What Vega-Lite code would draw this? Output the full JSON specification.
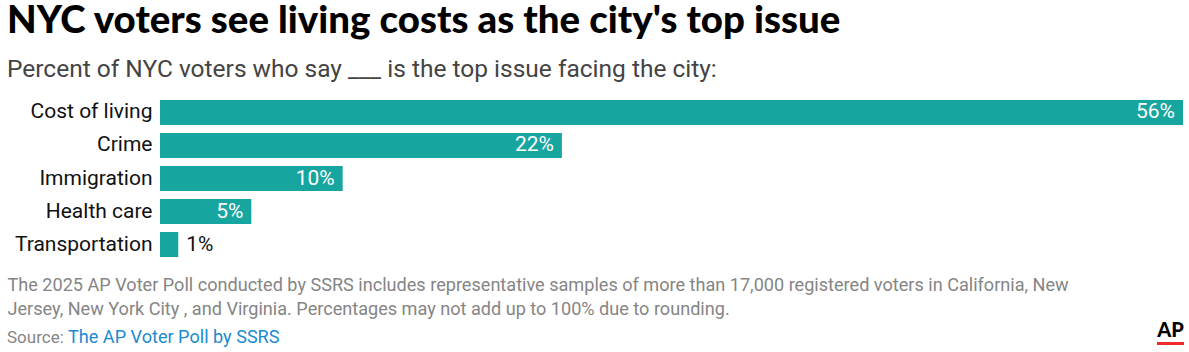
{
  "$schema": "https://vega.github.io/schema/vega-lite/v6.json",
  "background": "white",
  "padding": {"left": 7, "top": 1, "right": 5, "bottom": 0},
  "config": {"view": {"stroke": null}, "concat": {"spacing": 4}},
  "title": {
    "text": "NYC voters see living costs as the city's top issue",
    "subtitle": "Percent of NYC voters who say ___ is the top issue facing the city:",
    "anchor": "start",
    "font": "Lato",
    "fontSize": 38.4,
    "fontWeight": 900,
    "color": "#000000",
    "subtitleFont": "Roboto",
    "subtitleFontSize": 24.5,
    "subtitleColor": "#444444",
    "subtitlePadding": 17,
    "offset": 13.3
  },
  "datasets": {
    "issues": [
      {"issue": "Cost of living", "pct": 56, "label": "56%"},
      {"issue": "Crime", "pct": 22, "label": "22%"},
      {"issue": "Immigration", "pct": 10, "label": "10%"},
      {"issue": "Health care", "pct": 5, "label": "5%"},
      {"issue": "Transportation", "pct": 1, "label": "1%"}
    ]
  },
  "spacing": 2,
  "vconcat": [
    {
      "width": 1023,
      "height": 165,
      "data": {"name": "issues"},
      "encoding": {
        "y": {
          "field": "issue",
          "type": "nominal",
          "sort": null,
          "scale": {"paddingInner": 0.2424, "paddingOuter": 0.12},
          "axis": {
            "title": null,
            "ticks": false,
            "domain": false,
            "labelFont": "Roboto",
            "labelFontSize": 21,
            "labelColor": "#111111",
            "labelPadding": 8,
            "minExtent": 153,
            "maxExtent": 153
          }
        },
        "x": {
          "field": "pct",
          "type": "quantitative",
          "scale": {"domain": [0, 56], "nice": false},
          "axis": {
            "title": [
              "The 2025 AP Voter Poll conducted by SSRS includes representative samples of more than 17,000 registered voters in California, New",
              "Jersey, New York City , and Virginia. Percentages may not add up to 100% due to rounding."
            ],
            "labels": false,
            "ticks": false,
            "domain": false,
            "grid": false,
            "titleFont": "Roboto",
            "titleFontSize": 18.1,
            "titleFontWeight": "normal",
            "titleColor": "#858585",
            "titleLineHeight": 23.5,
            "titleAnchor": "start",
            "titleAlign": "left",
            "titleBaseline": "alphabetic",
            "titleX": -153,
            "titleY": 29.7
          }
        }
      },
      "layer": [
        {"mark": {"type": "bar", "color": "#17a5a0"}},
        {
          "transform": [{"filter": "datum.pct >= 3"}],
          "mark": {"type": "text", "align": "right", "dx": -8, "color": "#ffffff", "font": "Roboto", "fontSize": 21},
          "encoding": {"text": {"field": "label"}}
        },
        {
          "transform": [{"filter": "datum.pct < 3"}],
          "mark": {"type": "text", "align": "left", "dx": 8, "color": "#111111", "font": "Roboto", "fontSize": 21},
          "encoding": {"text": {"field": "label"}}
        }
      ]
    },
    {
      "spacing": 0,
      "bounds": "flush",
      "hconcat": [
        {
          "width": 1,
          "height": 1,
          "data": {"values": []},
          "mark": "text",
          "encoding": {},
          "title": {"text": "Source:", "orient": "top", "anchor": "start", "font": "Roboto", "fontSize": 17, "fontWeight": "normal", "color": "#858585", "offset": -4.6, "dx": -153}
        },
        {
          "width": 996,
          "height": 1,
          "data": {"values": []},
          "mark": "text",
          "encoding": {},
          "title": {"text": "The AP Voter Poll by SSRS", "orient": "top", "anchor": "start", "font": "Roboto", "fontSize": 18.1, "fontWeight": "normal", "color": "#1a8bd1", "offset": -4.8, "dx": -93}
        },
        {
          "width": 27,
          "height": 3,
          "data": {"values": [{"logo": "AP"}]},
          "mark": {"type": "bar", "color": "#ee2b2b"},
          "encoding": {},
          "title": {"text": "AP", "orient": "top", "anchor": "middle", "font": "Lato", "fontSize": 20, "fontWeight": 900, "color": "#000000", "offset": 0.7}
        }
      ]
    }
  ]
}
